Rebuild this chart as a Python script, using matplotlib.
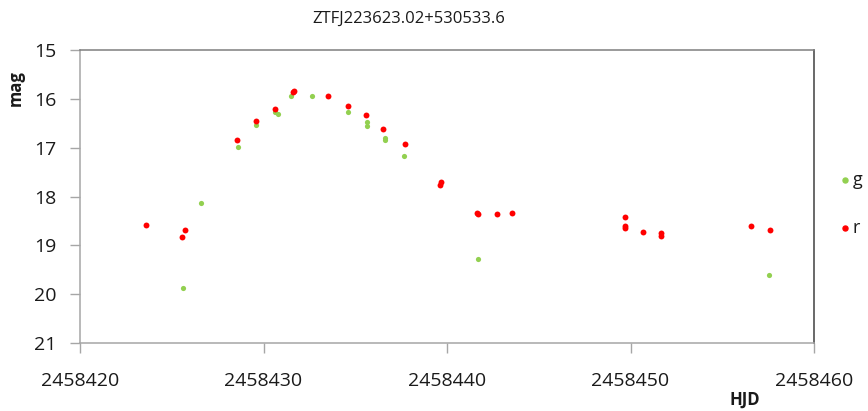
import matplotlib
matplotlib.use("Agg")
import matplotlib.pyplot as plt
from matplotlib.lines import Line2D

plt.rcParams['font.family'] = ['Open Sans', 'DejaVu Sans']

title = "ZTFJ223623.02+530533.6"
x_label = "HJD"
y_label = "mag"

g_hjd = [2458425.6, 2458426.61, 2458428.63, 2458429.6, 2458430.6, 2458430.79,
         2458431.52, 2458432.63, 2458434.6, 2458435.64, 2458435.64, 2458436.6,
         2458436.62, 2458437.64, 2458441.69, 2458457.57]
g_mag = [19.87, 18.13, 16.98, 16.53, 16.26, 16.31,
         15.94, 15.94, 16.27, 16.48, 16.55, 16.81,
         16.84, 17.17, 19.27, 19.61]

r_hjd = [2458423.6, 2458425.54, 2458425.7, 2458428.56, 2458429.6, 2458430.6,
         2458431.59, 2458431.64, 2458433.5, 2458434.6, 2458435.57, 2458436.53,
         2458437.69, 2458439.62, 2458439.69, 2458441.64, 2458441.70, 2458442.72,
         2458443.52, 2458449.68, 2458449.68, 2458449.68, 2458450.66, 2458451.64,
         2458451.66, 2458456.58, 2458457.62]
r_mag = [18.58, 18.82, 18.69, 16.84, 16.46, 16.20,
         15.86, 15.83, 15.94, 16.15, 16.33, 16.61,
         16.93, 17.76, 17.70, 18.33, 18.35, 18.35,
         18.33, 18.43, 18.60, 18.65, 18.73, 18.74,
         18.80, 18.60, 18.69]

x_ticks = [2458420, 2458430, 2458440, 2458450, 2458460]
y_ticks = [15, 16, 17, 18, 19, 20, 21]

green = '#92D050'
red = '#FF0000'

fig = plt.figure(figsize=(8.68, 4.11), dpi=100)
ax = fig.add_axes([80/868, 1-343/411, (814-80)/868, (343-50)/411])

ax.scatter(g_hjd, g_mag, s=14, color=green, linewidths=0, zorder=3)
ax.scatter(r_hjd, r_mag, s=18, color=red, linewidths=0, zorder=4)

ax.set_xlim(2458420, 2458460)
ax.set_ylim(21, 15)
ax.set_xticks(x_ticks)
ax.set_xticklabels([str(v) for v in x_ticks])
ax.set_yticks(y_ticks)
ax.set_yticklabels([str(v) for v in y_ticks])

ax.tick_params(axis='both', labelsize=14, colors='#A6A6A6', labelcolor='#1a1a1a',
               length=7, width=1, direction='out')
ax.tick_params(axis='x', pad=14)
ax.tick_params(axis='y', pad=10)

ax.spines['left'].set_color('#A6A6A6')
ax.spines['bottom'].set_color('#A6A6A6')
ax.spines['top'].set_color('#7F7F7F')
ax.spines['right'].set_color('#404040')
for s in ax.spines.values():
    s.set_linewidth(1.1)

fig.text(409/868, 1-19/411, title, ha='center', va='center', fontsize=12, color='#1a1a1a')
fig.text(16/868, 1-88/411, y_label, ha='center', va='center', rotation=90,
         fontsize=12, fontweight='bold', color='#1a1a1a')
fig.text(745/868, 1-400/411, x_label, ha='center', va='center',
         fontsize=12, fontweight='bold', color='#1a1a1a')

# legend
fig.add_artist(Line2D([845/868], [1-180/411], marker='o', markersize=3.6, color=green,
                      linestyle='none', transform=fig.transFigure))
fig.text(853/868, 1-180/411, 'g', ha='left', va='center', fontsize=13, color='#1a1a1a')
fig.add_artist(Line2D([845/868], [1-228/411], marker='o', markersize=3.6, color=red,
                      linestyle='none', transform=fig.transFigure))
fig.text(853/868, 1-228/411, 'r', ha='left', va='center', fontsize=13, color='#1a1a1a')

fig.savefig('out.png', dpi=100)
